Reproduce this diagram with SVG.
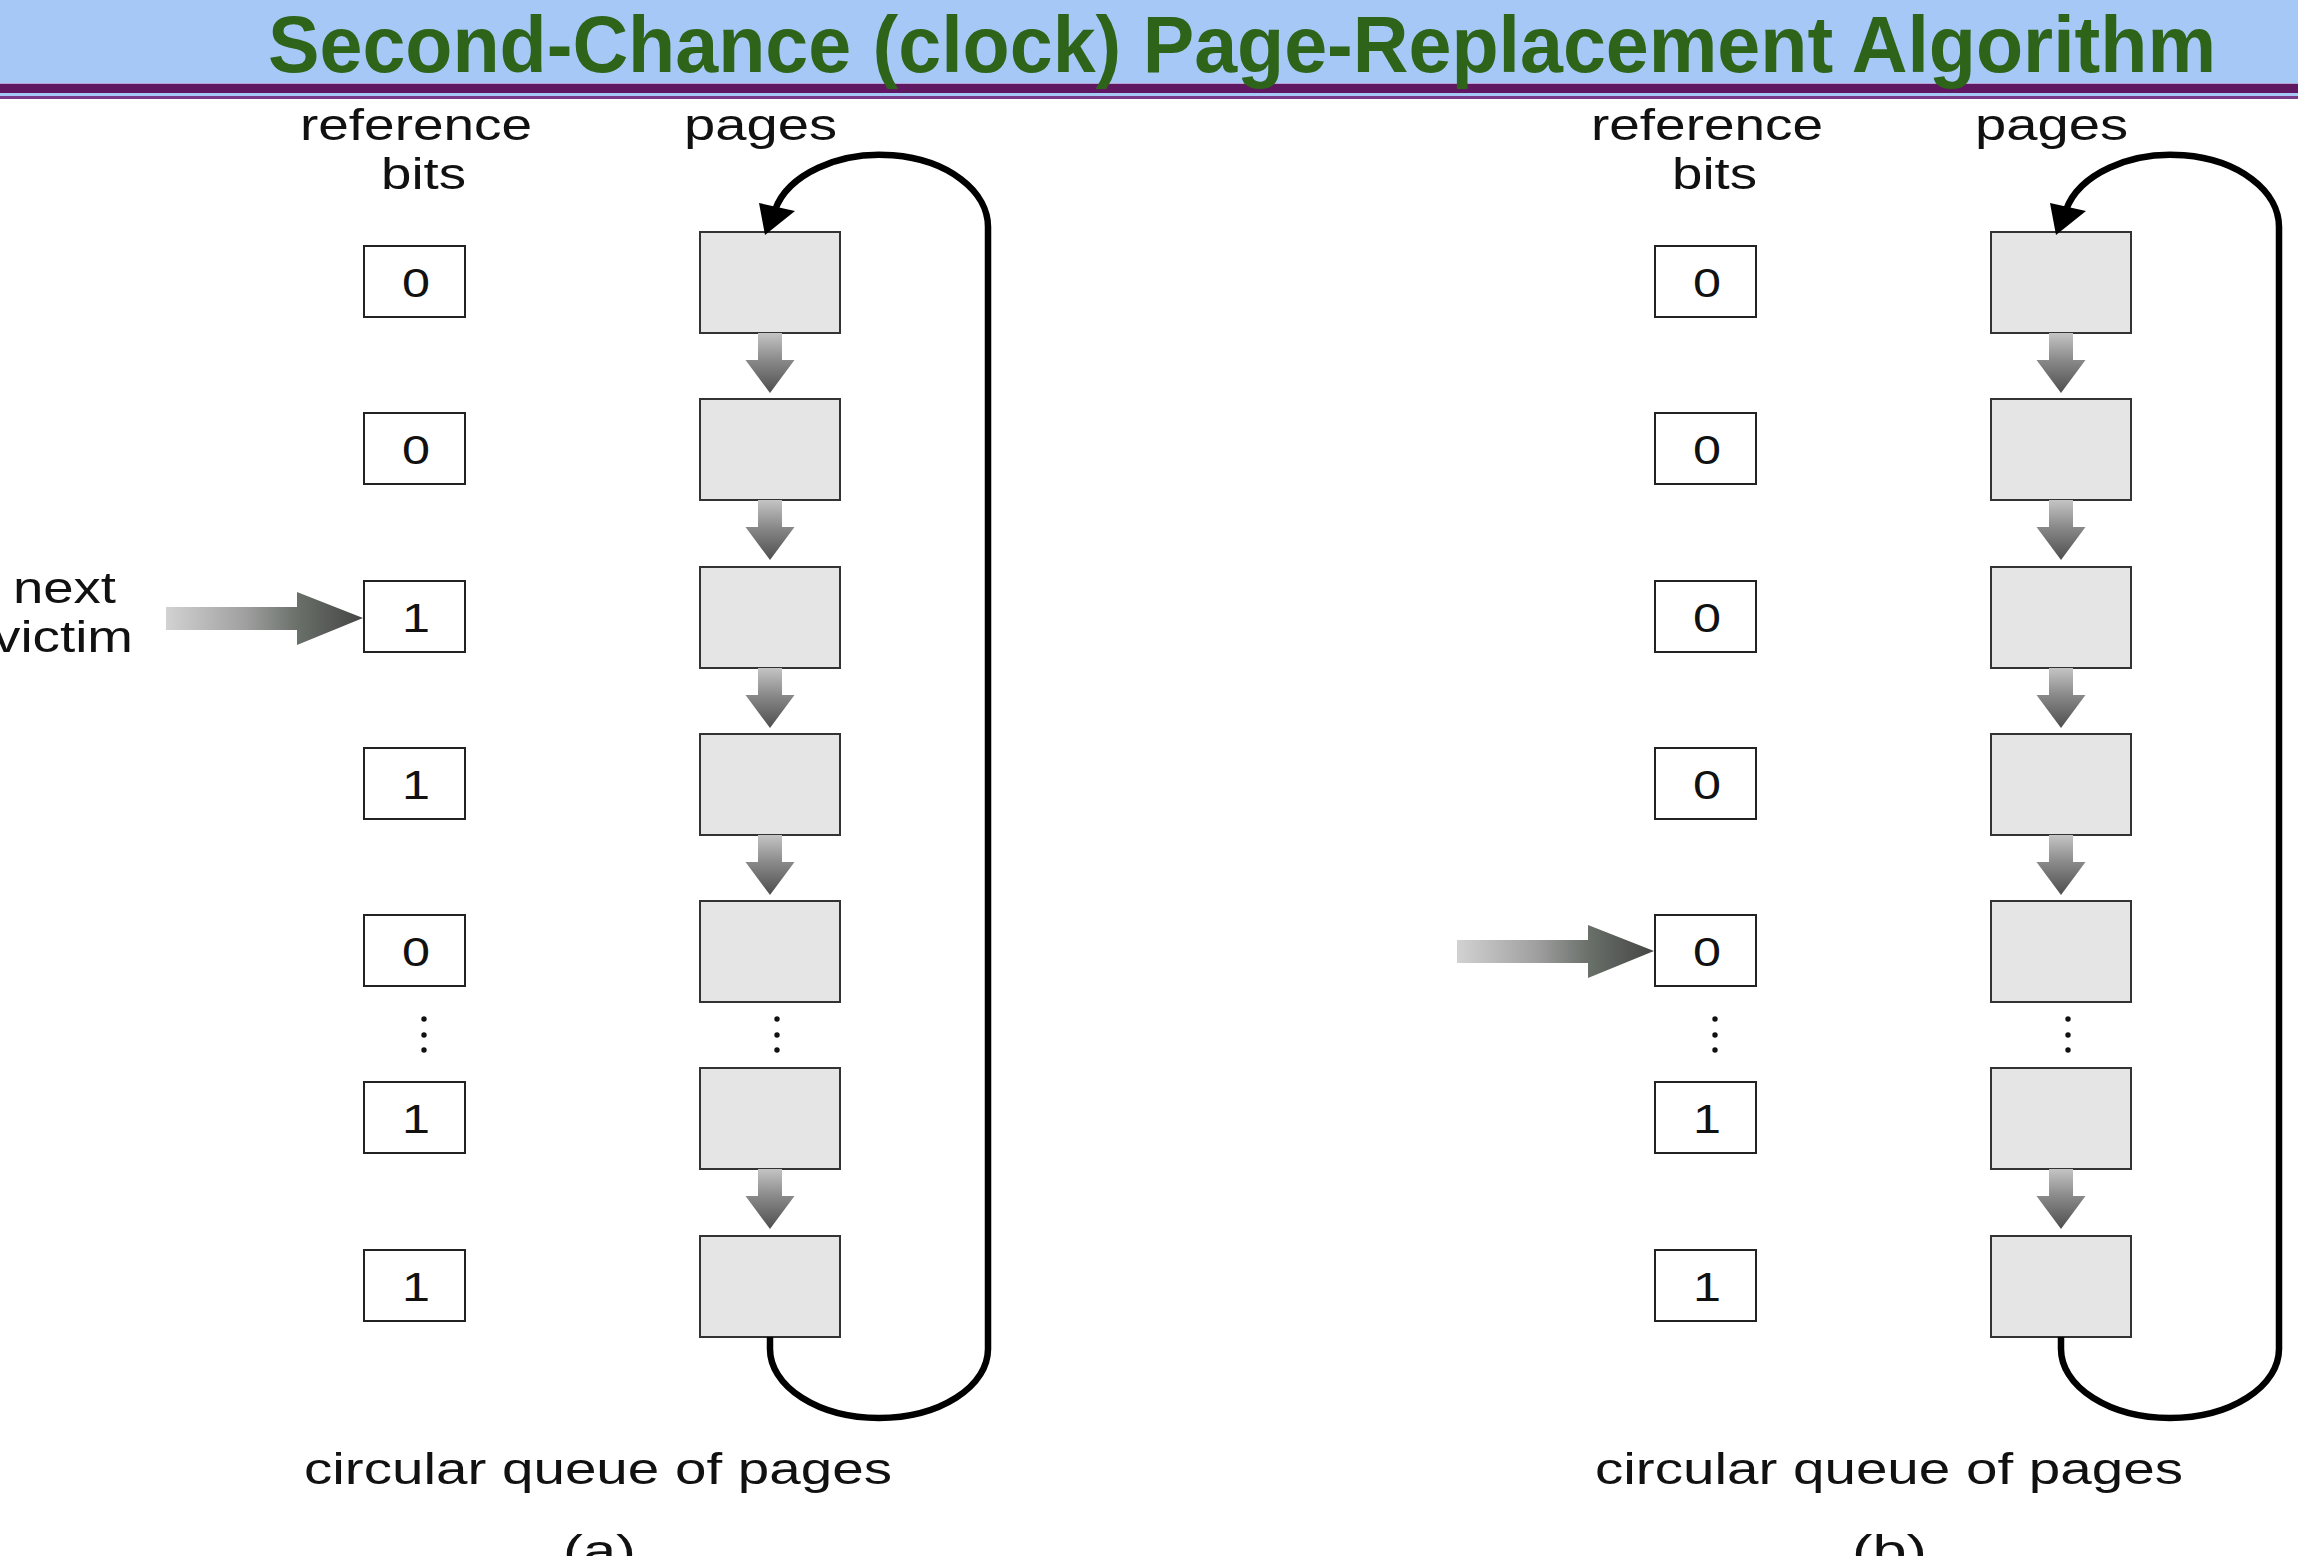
<svg xmlns="http://www.w3.org/2000/svg" width="2298" height="1556" viewBox="0 0 2298 1556">
<style>
.bit{fill:#fff;stroke:#222;stroke-width:2}
.pg{fill:#e5e5e5;stroke:#333;stroke-width:2}
.t{font-family:"Liberation Sans",Arial,sans-serif;font-size:45px;fill:#111}
.d{font-family:"Liberation Sans",Arial,sans-serif;font-size:40px;fill:#111;text-anchor:middle}
.loop{fill:none;stroke:#000;stroke-width:6.5}
.dot{fill:#111}
.darr{fill:url(#gv)}
.parr{fill:url(#gh)}
</style>
<defs>
<linearGradient id="gv" x1="0" y1="0" x2="0" y2="1">
<stop offset="0" stop-color="#c4c4c4"/>
<stop offset="0.45" stop-color="#8a8a8a"/>
<stop offset="1" stop-color="#4e4e4e"/>
</linearGradient>
<linearGradient id="gh" x1="0" y1="0" x2="1" y2="0">
<stop offset="0" stop-color="#d2d2d2"/>
<stop offset="0.4" stop-color="#a0a0a0"/>
<stop offset="0.68" stop-color="#686e68"/>
<stop offset="1" stop-color="#454545"/>
</linearGradient>
<path id="down" d="M-12 0H12V27H24.5L0 60L-24.5 27H-12Z"/>
<path id="ptr" d="M-197 -11H-66V-26L0 0L-66 27V12H-197Z"/>
</defs>
<g id="title">
<rect x="0" y="0" width="2298" height="84" fill="#a6c8f7"/>
<rect x="0" y="83" width="2298" height="1.5" fill="#b9a0d0"/>
<rect x="0" y="84" width="2298" height="9" fill="#5e1760"/>
<rect x="0" y="93" width="2298" height="3" fill="#a6c8f7"/>
<rect x="0" y="96" width="2298" height="3" fill="#7a3a8a"/>
<text x="268" y="72" font-family="'Liberation Sans',Arial,sans-serif" font-weight="bold" font-size="80" fill="#2e6419" textLength="1948" lengthAdjust="spacingAndGlyphs">Second-Chance (clock) Page-Replacement Algorithm</text>
</g>
<g id="panel-a">
<g id="a-labels">
<text class="t" x="300" y="140" textLength="232" lengthAdjust="spacingAndGlyphs">reference</text>
<text class="t" x="381" y="189" textLength="85" lengthAdjust="spacingAndGlyphs">bits</text>
<text class="t" x="684" y="140" textLength="153" lengthAdjust="spacingAndGlyphs">pages</text>
<text class="t" x="304" y="1484" textLength="588" lengthAdjust="spacingAndGlyphs">circular queue of pages</text>
<text class="t" x="563" y="1566" textLength="73" lengthAdjust="spacingAndGlyphs">(a)</text>
</g>
<g id="a-victim">
<text class="t" x="13" y="603" textLength="103" lengthAdjust="spacingAndGlyphs">next</text>
<text class="t" x="-7" y="652" textLength="140" lengthAdjust="spacingAndGlyphs">victim</text>
<use href="#ptr" class="parr" transform="translate(363,618)"/>
</g>
<g id="a-bit0"><rect class="bit" x="364" y="246" width="101" height="71"/><text class="d" x="416" y="297" textLength="28" lengthAdjust="spacingAndGlyphs">0</text></g>
<g id="a-bit1"><rect class="bit" x="364" y="413" width="101" height="71"/><text class="d" x="416" y="464" textLength="28" lengthAdjust="spacingAndGlyphs">0</text></g>
<g id="a-bit2"><rect class="bit" x="364" y="581" width="101" height="71"/><text class="d" x="416" y="632" textLength="28" lengthAdjust="spacingAndGlyphs">1</text></g>
<g id="a-bit3"><rect class="bit" x="364" y="748" width="101" height="71"/><text class="d" x="416" y="799" textLength="28" lengthAdjust="spacingAndGlyphs">1</text></g>
<g id="a-bit4"><rect class="bit" x="364" y="915" width="101" height="71"/><text class="d" x="416" y="966" textLength="28" lengthAdjust="spacingAndGlyphs">0</text></g>
<g id="a-bit5"><rect class="bit" x="364" y="1082" width="101" height="71"/><text class="d" x="416" y="1133" textLength="28" lengthAdjust="spacingAndGlyphs">1</text></g>
<g id="a-bit6"><rect class="bit" x="364" y="1250" width="101" height="71"/><text class="d" x="416" y="1301" textLength="28" lengthAdjust="spacingAndGlyphs">1</text></g>
<g id="a-page0"><rect class="pg" x="700" y="232" width="140" height="101"/></g>
<g id="a-page1"><rect class="pg" x="700" y="399" width="140" height="101"/></g>
<g id="a-page2"><rect class="pg" x="700" y="567" width="140" height="101"/></g>
<g id="a-page3"><rect class="pg" x="700" y="734" width="140" height="101"/></g>
<g id="a-page4"><rect class="pg" x="700" y="901" width="140" height="101"/></g>
<g id="a-page5"><rect class="pg" x="700" y="1068" width="140" height="101"/></g>
<g id="a-page6"><rect class="pg" x="700" y="1236" width="140" height="101"/></g>
<g id="a-dots">
<circle class="dot" cx="424" cy="1019" r="2.7"/><circle class="dot" cx="424" cy="1035" r="2.7"/><circle class="dot" cx="424" cy="1050" r="2.7"/>
<circle class="dot" cx="777" cy="1019" r="2.7"/><circle class="dot" cx="777" cy="1035" r="2.7"/><circle class="dot" cx="777" cy="1050" r="2.7"/>
</g>
<g id="a-connectors">
<use href="#down" class="darr" transform="translate(770,333)"/>
<use href="#down" class="darr" transform="translate(770,500)"/>
<use href="#down" class="darr" transform="translate(770,668)"/>
<use href="#down" class="darr" transform="translate(770,835)"/>
<use href="#down" class="darr" transform="translate(770,1169)"/>
<path class="loop" d="M770 1337V1349A109 69 0 0 0 988 1349V227A108 72 0 0 0 775 210"/>
<polygon points="759,203 795,211 765,235" fill="#000"/>
</g>
</g>
<g id="panel-b" transform="translate(1291,0)">
<g id="b-labels">
<text class="t" x="300" y="140" textLength="232" lengthAdjust="spacingAndGlyphs">reference</text>
<text class="t" x="381" y="189" textLength="85" lengthAdjust="spacingAndGlyphs">bits</text>
<text class="t" x="684" y="140" textLength="153" lengthAdjust="spacingAndGlyphs">pages</text>
<text class="t" x="304" y="1484" textLength="588" lengthAdjust="spacingAndGlyphs">circular queue of pages</text>
<text class="t" x="561" y="1566" textLength="75" lengthAdjust="spacingAndGlyphs">(b)</text>
</g>
<g id="b-pointer"><use href="#ptr" class="parr" transform="translate(363,951)"/></g>
<g id="b-bit0"><rect class="bit" x="364" y="246" width="101" height="71"/><text class="d" x="416" y="297" textLength="28" lengthAdjust="spacingAndGlyphs">0</text></g>
<g id="b-bit1"><rect class="bit" x="364" y="413" width="101" height="71"/><text class="d" x="416" y="464" textLength="28" lengthAdjust="spacingAndGlyphs">0</text></g>
<g id="b-bit2"><rect class="bit" x="364" y="581" width="101" height="71"/><text class="d" x="416" y="632" textLength="28" lengthAdjust="spacingAndGlyphs">0</text></g>
<g id="b-bit3"><rect class="bit" x="364" y="748" width="101" height="71"/><text class="d" x="416" y="799" textLength="28" lengthAdjust="spacingAndGlyphs">0</text></g>
<g id="b-bit4"><rect class="bit" x="364" y="915" width="101" height="71"/><text class="d" x="416" y="966" textLength="28" lengthAdjust="spacingAndGlyphs">0</text></g>
<g id="b-bit5"><rect class="bit" x="364" y="1082" width="101" height="71"/><text class="d" x="416" y="1133" textLength="28" lengthAdjust="spacingAndGlyphs">1</text></g>
<g id="b-bit6"><rect class="bit" x="364" y="1250" width="101" height="71"/><text class="d" x="416" y="1301" textLength="28" lengthAdjust="spacingAndGlyphs">1</text></g>
<g id="b-page0"><rect class="pg" x="700" y="232" width="140" height="101"/></g>
<g id="b-page1"><rect class="pg" x="700" y="399" width="140" height="101"/></g>
<g id="b-page2"><rect class="pg" x="700" y="567" width="140" height="101"/></g>
<g id="b-page3"><rect class="pg" x="700" y="734" width="140" height="101"/></g>
<g id="b-page4"><rect class="pg" x="700" y="901" width="140" height="101"/></g>
<g id="b-page5"><rect class="pg" x="700" y="1068" width="140" height="101"/></g>
<g id="b-page6"><rect class="pg" x="700" y="1236" width="140" height="101"/></g>
<g id="b-dots">
<circle class="dot" cx="424" cy="1019" r="2.7"/><circle class="dot" cx="424" cy="1035" r="2.7"/><circle class="dot" cx="424" cy="1050" r="2.7"/>
<circle class="dot" cx="777" cy="1019" r="2.7"/><circle class="dot" cx="777" cy="1035" r="2.7"/><circle class="dot" cx="777" cy="1050" r="2.7"/>
</g>
<g id="b-connectors">
<use href="#down" class="darr" transform="translate(770,333)"/>
<use href="#down" class="darr" transform="translate(770,500)"/>
<use href="#down" class="darr" transform="translate(770,668)"/>
<use href="#down" class="darr" transform="translate(770,835)"/>
<use href="#down" class="darr" transform="translate(770,1169)"/>
<path class="loop" d="M770 1337V1349A109 69 0 0 0 988 1349V227A108 72 0 0 0 775 210"/>
<polygon points="759,203 795,211 765,235" fill="#000"/>
</g>
</g>
</svg>
